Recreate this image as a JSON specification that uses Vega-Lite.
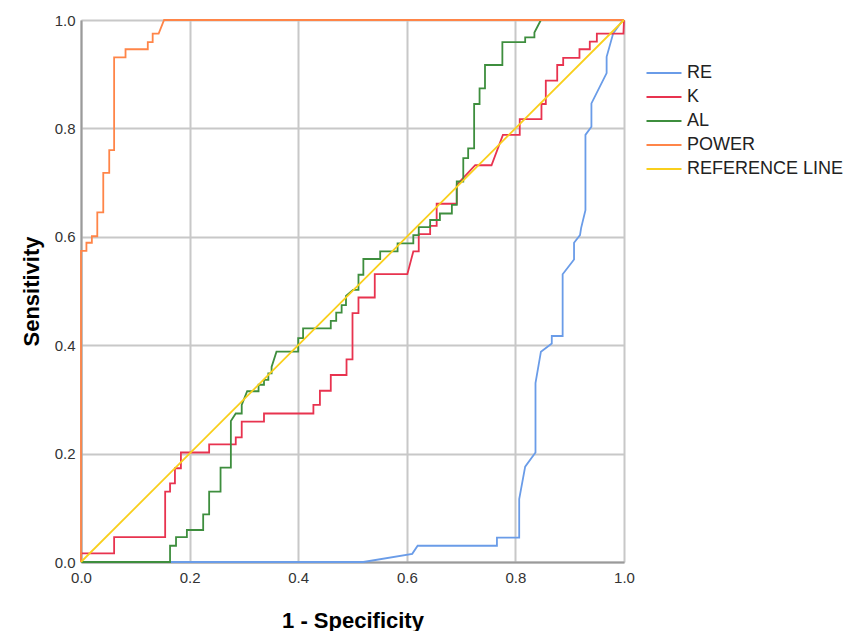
{
  "$schema": "https://vega.github.io/schema/vega-lite/v6.json",
  "width": 543,
  "height": 542,
  "autosize": "none",
  "padding": {"left": 81, "top": 20, "right": 220, "bottom": 69},
  "background": "white",
  "config": {
    "view": {"stroke": null},
    "font": "Liberation Sans",
    "axis": {
      "grid": true,
      "gridColor": "#c8c8c8",
      "gridWidth": 2,
      "domainColor": "#9a9a9a",
      "domainWidth": 2,
      "ticks": false,
      "labelFont": "Liberation Sans",
      "labelFontSize": 15,
      "labelColor": "#333333",
      "titleFont": "Liberation Sans",
      "titleFontSize": 22,
      "titleFontWeight": "bold",
      "titleColor": "#000000"
    },
    "legend": {
      "labelFont": "Liberation Sans",
      "labelFontSize": 18,
      "labelColor": "#222222"
    }
  },
  "data": {
    "values": [
      {"s": "RE", "i": 0, "x": 0, "y": 0},
      {"s": "RE", "i": 1, "x": 0.52, "y": 0},
      {"s": "RE", "i": 2, "x": 0.61, "y": 0.015},
      {"s": "RE", "i": 3, "x": 0.62, "y": 0.03},
      {"s": "RE", "i": 4, "x": 0.766, "y": 0.03},
      {"s": "RE", "i": 5, "x": 0.766, "y": 0.045},
      {"s": "RE", "i": 6, "x": 0.807, "y": 0.045},
      {"s": "RE", "i": 7, "x": 0.807, "y": 0.116},
      {"s": "RE", "i": 8, "x": 0.818, "y": 0.176},
      {"s": "RE", "i": 9, "x": 0.837, "y": 0.202},
      {"s": "RE", "i": 10, "x": 0.837, "y": 0.33},
      {"s": "RE", "i": 11, "x": 0.847, "y": 0.388},
      {"s": "RE", "i": 12, "x": 0.867, "y": 0.403},
      {"s": "RE", "i": 13, "x": 0.867, "y": 0.417},
      {"s": "RE", "i": 14, "x": 0.887, "y": 0.417},
      {"s": "RE", "i": 15, "x": 0.887, "y": 0.531},
      {"s": "RE", "i": 16, "x": 0.908, "y": 0.558},
      {"s": "RE", "i": 17, "x": 0.908, "y": 0.589},
      {"s": "RE", "i": 18, "x": 0.919, "y": 0.603},
      {"s": "RE", "i": 19, "x": 0.921, "y": 0.616},
      {"s": "RE", "i": 20, "x": 0.929, "y": 0.649},
      {"s": "RE", "i": 21, "x": 0.929, "y": 0.788},
      {"s": "RE", "i": 22, "x": 0.94, "y": 0.803},
      {"s": "RE", "i": 23, "x": 0.94, "y": 0.846},
      {"s": "RE", "i": 24, "x": 0.968, "y": 0.902},
      {"s": "RE", "i": 25, "x": 0.968, "y": 0.932},
      {"s": "RE", "i": 26, "x": 0.98, "y": 0.975},
      {"s": "RE", "i": 27, "x": 0.998, "y": 1.0},
      {"s": "RE", "i": 28, "x": 1, "y": 1},

      {"s": "K", "i": 0, "x": 0, "y": 0},
      {"s": "K", "i": 1, "x": 0, "y": 0.016},
      {"s": "K", "i": 2, "x": 0.061, "y": 0.016},
      {"s": "K", "i": 3, "x": 0.061, "y": 0.046},
      {"s": "K", "i": 4, "x": 0.155, "y": 0.046},
      {"s": "K", "i": 5, "x": 0.155, "y": 0.13},
      {"s": "K", "i": 6, "x": 0.164, "y": 0.13},
      {"s": "K", "i": 7, "x": 0.164, "y": 0.145},
      {"s": "K", "i": 8, "x": 0.173, "y": 0.145},
      {"s": "K", "i": 9, "x": 0.173, "y": 0.173},
      {"s": "K", "i": 10, "x": 0.184, "y": 0.173},
      {"s": "K", "i": 11, "x": 0.184, "y": 0.202},
      {"s": "K", "i": 12, "x": 0.236, "y": 0.202},
      {"s": "K", "i": 13, "x": 0.236, "y": 0.217},
      {"s": "K", "i": 14, "x": 0.285, "y": 0.217},
      {"s": "K", "i": 15, "x": 0.285, "y": 0.23},
      {"s": "K", "i": 16, "x": 0.296, "y": 0.23},
      {"s": "K", "i": 17, "x": 0.296, "y": 0.259},
      {"s": "K", "i": 18, "x": 0.337, "y": 0.259},
      {"s": "K", "i": 19, "x": 0.337, "y": 0.274},
      {"s": "K", "i": 20, "x": 0.428, "y": 0.274},
      {"s": "K", "i": 21, "x": 0.428, "y": 0.29},
      {"s": "K", "i": 22, "x": 0.44, "y": 0.29},
      {"s": "K", "i": 23, "x": 0.44, "y": 0.316},
      {"s": "K", "i": 24, "x": 0.46, "y": 0.316},
      {"s": "K", "i": 25, "x": 0.46, "y": 0.345},
      {"s": "K", "i": 26, "x": 0.489, "y": 0.345},
      {"s": "K", "i": 27, "x": 0.489, "y": 0.374},
      {"s": "K", "i": 28, "x": 0.5, "y": 0.374},
      {"s": "K", "i": 29, "x": 0.5, "y": 0.459},
      {"s": "K", "i": 30, "x": 0.511, "y": 0.459},
      {"s": "K", "i": 31, "x": 0.511, "y": 0.488},
      {"s": "K", "i": 32, "x": 0.541, "y": 0.488},
      {"s": "K", "i": 33, "x": 0.541, "y": 0.531},
      {"s": "K", "i": 34, "x": 0.601, "y": 0.531},
      {"s": "K", "i": 35, "x": 0.612, "y": 0.573},
      {"s": "K", "i": 36, "x": 0.622, "y": 0.573},
      {"s": "K", "i": 37, "x": 0.622, "y": 0.605},
      {"s": "K", "i": 38, "x": 0.643, "y": 0.605},
      {"s": "K", "i": 39, "x": 0.643, "y": 0.62},
      {"s": "K", "i": 40, "x": 0.655, "y": 0.62},
      {"s": "K", "i": 41, "x": 0.655, "y": 0.661},
      {"s": "K", "i": 42, "x": 0.692, "y": 0.661},
      {"s": "K", "i": 43, "x": 0.692, "y": 0.696},
      {"s": "K", "i": 44, "x": 0.726, "y": 0.732},
      {"s": "K", "i": 45, "x": 0.756, "y": 0.732},
      {"s": "K", "i": 46, "x": 0.777, "y": 0.788},
      {"s": "K", "i": 47, "x": 0.808, "y": 0.788},
      {"s": "K", "i": 48, "x": 0.808, "y": 0.817},
      {"s": "K", "i": 49, "x": 0.848, "y": 0.817},
      {"s": "K", "i": 50, "x": 0.848, "y": 0.845},
      {"s": "K", "i": 51, "x": 0.856, "y": 0.845},
      {"s": "K", "i": 52, "x": 0.856, "y": 0.888},
      {"s": "K", "i": 53, "x": 0.877, "y": 0.888},
      {"s": "K", "i": 54, "x": 0.877, "y": 0.917},
      {"s": "K", "i": 55, "x": 0.888, "y": 0.917},
      {"s": "K", "i": 56, "x": 0.888, "y": 0.93},
      {"s": "K", "i": 57, "x": 0.918, "y": 0.93},
      {"s": "K", "i": 58, "x": 0.918, "y": 0.946},
      {"s": "K", "i": 59, "x": 0.937, "y": 0.946},
      {"s": "K", "i": 60, "x": 0.937, "y": 0.96},
      {"s": "K", "i": 61, "x": 0.95, "y": 0.96},
      {"s": "K", "i": 62, "x": 0.95, "y": 0.975},
      {"s": "K", "i": 63, "x": 0.999, "y": 0.975},
      {"s": "K", "i": 64, "x": 1, "y": 1},

      {"s": "AL", "i": 0, "x": 0, "y": 0},
      {"s": "AL", "i": 1, "x": 0.164, "y": 0},
      {"s": "AL", "i": 2, "x": 0.164, "y": 0.03},
      {"s": "AL", "i": 3, "x": 0.175, "y": 0.03},
      {"s": "AL", "i": 4, "x": 0.175, "y": 0.046},
      {"s": "AL", "i": 5, "x": 0.195, "y": 0.046},
      {"s": "AL", "i": 6, "x": 0.195, "y": 0.059},
      {"s": "AL", "i": 7, "x": 0.225, "y": 0.059},
      {"s": "AL", "i": 8, "x": 0.225, "y": 0.088},
      {"s": "AL", "i": 9, "x": 0.236, "y": 0.088},
      {"s": "AL", "i": 10, "x": 0.236, "y": 0.13},
      {"s": "AL", "i": 11, "x": 0.257, "y": 0.13},
      {"s": "AL", "i": 12, "x": 0.257, "y": 0.174},
      {"s": "AL", "i": 13, "x": 0.276, "y": 0.174},
      {"s": "AL", "i": 14, "x": 0.276, "y": 0.26},
      {"s": "AL", "i": 15, "x": 0.285, "y": 0.274},
      {"s": "AL", "i": 16, "x": 0.296, "y": 0.274},
      {"s": "AL", "i": 17, "x": 0.296, "y": 0.29},
      {"s": "AL", "i": 18, "x": 0.306, "y": 0.315},
      {"s": "AL", "i": 19, "x": 0.327, "y": 0.315},
      {"s": "AL", "i": 20, "x": 0.327, "y": 0.327},
      {"s": "AL", "i": 21, "x": 0.337, "y": 0.327},
      {"s": "AL", "i": 22, "x": 0.337, "y": 0.336},
      {"s": "AL", "i": 23, "x": 0.345, "y": 0.336},
      {"s": "AL", "i": 24, "x": 0.345, "y": 0.348},
      {"s": "AL", "i": 25, "x": 0.351, "y": 0.348},
      {"s": "AL", "i": 26, "x": 0.351, "y": 0.36},
      {"s": "AL", "i": 27, "x": 0.36, "y": 0.388},
      {"s": "AL", "i": 28, "x": 0.4, "y": 0.388},
      {"s": "AL", "i": 29, "x": 0.4, "y": 0.413},
      {"s": "AL", "i": 30, "x": 0.409, "y": 0.413},
      {"s": "AL", "i": 31, "x": 0.409, "y": 0.431},
      {"s": "AL", "i": 32, "x": 0.46, "y": 0.431},
      {"s": "AL", "i": 33, "x": 0.46, "y": 0.445},
      {"s": "AL", "i": 34, "x": 0.47, "y": 0.445},
      {"s": "AL", "i": 35, "x": 0.47, "y": 0.46},
      {"s": "AL", "i": 36, "x": 0.48, "y": 0.46},
      {"s": "AL", "i": 37, "x": 0.48, "y": 0.474},
      {"s": "AL", "i": 38, "x": 0.488, "y": 0.474},
      {"s": "AL", "i": 39, "x": 0.488, "y": 0.491},
      {"s": "AL", "i": 40, "x": 0.501, "y": 0.502},
      {"s": "AL", "i": 41, "x": 0.511, "y": 0.502},
      {"s": "AL", "i": 42, "x": 0.511, "y": 0.53},
      {"s": "AL", "i": 43, "x": 0.52, "y": 0.53},
      {"s": "AL", "i": 44, "x": 0.52, "y": 0.559},
      {"s": "AL", "i": 45, "x": 0.551, "y": 0.559},
      {"s": "AL", "i": 46, "x": 0.551, "y": 0.573},
      {"s": "AL", "i": 47, "x": 0.583, "y": 0.573},
      {"s": "AL", "i": 48, "x": 0.583, "y": 0.588},
      {"s": "AL", "i": 49, "x": 0.612, "y": 0.588},
      {"s": "AL", "i": 50, "x": 0.612, "y": 0.603},
      {"s": "AL", "i": 51, "x": 0.622, "y": 0.603},
      {"s": "AL", "i": 52, "x": 0.622, "y": 0.618},
      {"s": "AL", "i": 53, "x": 0.643, "y": 0.618},
      {"s": "AL", "i": 54, "x": 0.643, "y": 0.631},
      {"s": "AL", "i": 55, "x": 0.661, "y": 0.631},
      {"s": "AL", "i": 56, "x": 0.661, "y": 0.643},
      {"s": "AL", "i": 57, "x": 0.683, "y": 0.643},
      {"s": "AL", "i": 58, "x": 0.683, "y": 0.659},
      {"s": "AL", "i": 59, "x": 0.692, "y": 0.659},
      {"s": "AL", "i": 60, "x": 0.692, "y": 0.702},
      {"s": "AL", "i": 61, "x": 0.704, "y": 0.702},
      {"s": "AL", "i": 62, "x": 0.704, "y": 0.745},
      {"s": "AL", "i": 63, "x": 0.713, "y": 0.745},
      {"s": "AL", "i": 64, "x": 0.713, "y": 0.763},
      {"s": "AL", "i": 65, "x": 0.724, "y": 0.763},
      {"s": "AL", "i": 66, "x": 0.724, "y": 0.845},
      {"s": "AL", "i": 67, "x": 0.734, "y": 0.845},
      {"s": "AL", "i": 68, "x": 0.734, "y": 0.874},
      {"s": "AL", "i": 69, "x": 0.744, "y": 0.874},
      {"s": "AL", "i": 70, "x": 0.744, "y": 0.917},
      {"s": "AL", "i": 71, "x": 0.776, "y": 0.917},
      {"s": "AL", "i": 72, "x": 0.776, "y": 0.959},
      {"s": "AL", "i": 73, "x": 0.818, "y": 0.959},
      {"s": "AL", "i": 74, "x": 0.818, "y": 0.968},
      {"s": "AL", "i": 75, "x": 0.835, "y": 0.968},
      {"s": "AL", "i": 76, "x": 0.835, "y": 0.977},
      {"s": "AL", "i": 77, "x": 0.847, "y": 1.0},
      {"s": "AL", "i": 78, "x": 1, "y": 1},

      {"s": "POWER", "i": 0, "x": 0, "y": 0},
      {"s": "POWER", "i": 1, "x": 0, "y": 0.574},
      {"s": "POWER", "i": 2, "x": 0.01, "y": 0.574},
      {"s": "POWER", "i": 3, "x": 0.01, "y": 0.589},
      {"s": "POWER", "i": 4, "x": 0.02, "y": 0.589},
      {"s": "POWER", "i": 5, "x": 0.02, "y": 0.601},
      {"s": "POWER", "i": 6, "x": 0.03, "y": 0.601},
      {"s": "POWER", "i": 7, "x": 0.03, "y": 0.645},
      {"s": "POWER", "i": 8, "x": 0.041, "y": 0.645},
      {"s": "POWER", "i": 9, "x": 0.041, "y": 0.718},
      {"s": "POWER", "i": 10, "x": 0.052, "y": 0.718},
      {"s": "POWER", "i": 11, "x": 0.052, "y": 0.76},
      {"s": "POWER", "i": 12, "x": 0.061, "y": 0.76},
      {"s": "POWER", "i": 13, "x": 0.061, "y": 0.931},
      {"s": "POWER", "i": 14, "x": 0.082, "y": 0.931},
      {"s": "POWER", "i": 15, "x": 0.082, "y": 0.946},
      {"s": "POWER", "i": 16, "x": 0.123, "y": 0.946},
      {"s": "POWER", "i": 17, "x": 0.123, "y": 0.959},
      {"s": "POWER", "i": 18, "x": 0.132, "y": 0.959},
      {"s": "POWER", "i": 19, "x": 0.132, "y": 0.975},
      {"s": "POWER", "i": 20, "x": 0.143, "y": 0.975},
      {"s": "POWER", "i": 21, "x": 0.153, "y": 1.0},
      {"s": "POWER", "i": 22, "x": 1, "y": 1},

      {"s": "REFERENCE LINE", "i": 0, "x": 0, "y": 0},
      {"s": "REFERENCE LINE", "i": 1, "x": 1, "y": 1}
    ]
  },
  "mark": {"type": "line", "strokeWidth": 1.8, "interpolate": "linear"},
  "encoding": {
    "x": {
      "field": "x",
      "type": "quantitative",
      "scale": {"domain": [0, 1], "nice": false, "zero": false},
      "axis": {"values": [0, 0.2, 0.4, 0.6, 0.8, 1.0], "format": ".1f", "title": "1 - Specificity", "labelPadding": 8, "titlePadding": 25, "labelFlush": false}
    },
    "y": {
      "field": "y",
      "type": "quantitative",
      "scale": {"domain": [0, 1], "nice": false, "zero": false},
      "axis": {"values": [0, 0.2, 0.4, 0.6, 0.8, 1.0], "format": ".1f", "title": "Sensitivity", "labelPadding": 6, "titlePadding": 11, "labelFlush": false}
    },
    "color": {
      "field": "s",
      "type": "nominal",
      "scale": {
        "domain": ["RE", "K", "AL", "POWER", "REFERENCE LINE"],
        "range": ["#6a9ce8", "#e8334f", "#3e8e3e", "#ff8548", "#f9cf1c"]
      },
      "legend": {
        "title": null,
        "orient": "none",
        "legendX": 573,
        "legendY": 43,
        "symbolType": "M-2,0H2",
        "symbolSize": 306,
        "symbolStrokeWidth": 2,
        "rowPadding": 5,
        "labelOffset": 13
      }
    },
    "order": {"field": "i", "type": "quantitative"}
  }
}
